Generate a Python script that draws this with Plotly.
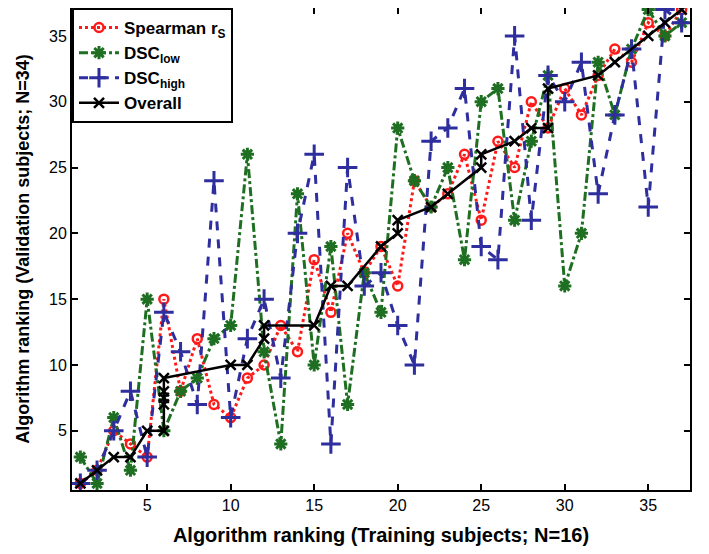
import plotly.graph_objects as go

train_rank = list(range(1, 38))
spearman = [1, 2, 5, 4, 3, 15, 8, 12, 7, 6, 9, 10, 13, 11, 18, 14, 20, 17, 19, 16,
            24, 22, 23, 26, 21, 27, 25, 30, 28, 31, 29, 32, 34, 33, 36, 35, 37]
dsc_low = [3, 1, 6, 2, 15, 5, 8, 9, 12, 13, 26, 11, 4, 23, 10, 19, 7, 17, 14, 28,
           24, 22, 25, 18, 30, 31, 21, 27, 32, 16, 20, 33, 29, 34, 37, 35, 36]
dsc_high = [1, 2, 5, 8, 3, 14, 11, 7, 24, 6, 12, 15, 9, 20, 26, 4, 25, 16, 17, 13,
            10, 27, 28, 31, 19, 18, 35, 21, 32, 30, 33, 23, 29, 34, 22, 37, 36]
overall_x = [1, 2, 3, 4, 5, 6, 6, 6, 6, 6, 10, 11, 12, 12, 15, 16, 17, 19, 20, 20,
             22, 23, 25, 25, 27, 28, 29, 29, 32, 33, 35, 36, 37]
overall_y = [1, 2, 3, 3, 5, 5, 7, 7.5, 8, 9, 10, 10, 12, 13, 13, 16, 16, 19, 20, 21,
             22, 23, 25, 26, 27, 28, 28, 31, 32, 33, 35, 36, 37]
tick_vals = [5, 10, 15, 20, 25, 30, 35]

RED = "#ff1a1a"
GREEN = "#1f6f22"
BLUE = "#2e2e9e"
FONT = "Liberation Sans, Arial, sans-serif"

fig = go.Figure()
fig.add_trace(go.Scatter(
    x=train_rank, y=spearman, mode="lines+markers", name="Spearman r<sub>S</sub>",
    line=dict(color=RED, width=3, dash="dot"),
    marker=dict(symbol="circle-open", size=9, color=RED, line=dict(width=2.5, color=RED))))
fig.add_trace(go.Scatter(
    x=train_rank, y=dsc_low, mode="lines+markers", name="DSC<sub>low</sub>",
    line=dict(color=GREEN, width=3, dash="dashdot"),
    marker=dict(symbol="asterisk-open", size=11, color=GREEN, line=dict(width=3, color=GREEN))))
fig.add_trace(go.Scatter(
    x=train_rank, y=dsc_high, mode="lines+markers", name="DSC<sub>high</sub>",
    line=dict(color=BLUE, width=3, dash="dash"),
    marker=dict(symbol="cross-thin-open", size=14, color=BLUE, line=dict(width=3, color=BLUE))))
fig.add_trace(go.Scatter(
    x=overall_x, y=overall_y, mode="lines+markers", name="Overall",
    line=dict(color="black", width=2.5),
    marker=dict(symbol="x-thin-open", size=10, color="black", line=dict(width=2.5, color="black"))))

axis_common = dict(
    tickvals=tick_vals, ticks="inside", ticklen=6, tickwidth=2, tickcolor="black",
    showline=True, linecolor="black", linewidth=2, mirror="ticks",
    showgrid=False, zeroline=False, automargin=False,
    tickfont=dict(family=FONT, size=16, color="black"),
)
fig.update_xaxes(range=[0.5, 37.5],
                 title=dict(text="<b>Algorithm ranking (Training subjects; N=16)</b>",
                            font=dict(family=FONT, size=20, color="black")),
                 **axis_common)
fig.update_yaxes(range=[0.5, 37.12],
                 title=dict(text="<b>Algorithm ranking (Validation subjects; N=34)</b>",
                            font=dict(family=FONT, size=18, color="black")),
                 **axis_common)

fig.update_layout(
    width=701, height=546,
    margin=dict(l=64, r=19, t=0, b=64),
    paper_bgcolor="white", plot_bgcolor="white",
    showlegend=True,
    legend=dict(x=0, y=1, xanchor="left", yanchor="top",
                bgcolor="white", bordercolor="black", borderwidth=2,
                font=dict(family=FONT, size=17, color="black", weight="bold"),
                tracegroupgap=0, itemwidth=40),
)

fig.write_html("out.html")
